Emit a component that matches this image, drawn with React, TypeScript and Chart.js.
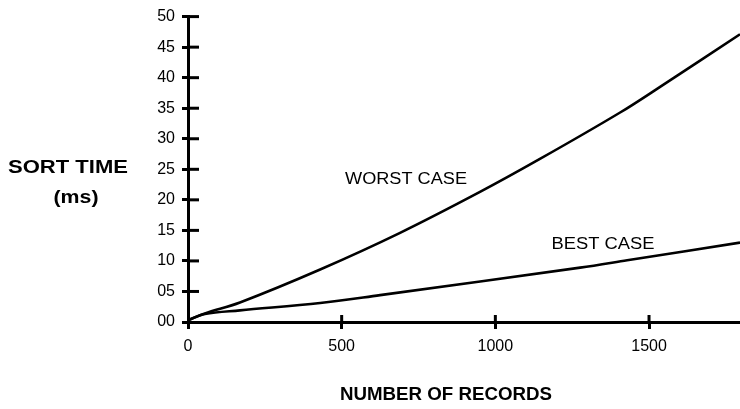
import React, { useEffect, useRef } from 'react';
import { Chart, registerables } from 'chart.js';

Chart.register(...registerables);

// ---- Data ----
const WORST_X = [0, 55, 169, 430, 690, 950, 1145, 1406, 1536, 1796];
const WORST_Y = [0.3, 1.4, 3.2, 8.6, 14.6, 21.3, 26.7, 34.3, 38.5, 47.1];
const BEST_X = [0, 55, 169, 430, 625, 1276, 1429, 1796];
const BEST_Y = [0.3, 1.3, 1.9, 3.1, 4.4, 8.9, 10.1, 13.0];

const X_TICKS = [0, 500, 1000, 1500];
const X_TICK_LABELS = ['0', '500', '1000', '1500'];
const Y_TICKS = [0, 5, 10, 15, 20, 25, 30, 35, 40, 45, 50];
const Y_TICK_LABELS = ['00', '05', '10', '15', '20', '25', '30', '35', '40', '45', '50'];
const X_MAX = 1796;
const Y_MAX = 50;

const SERIES_LABELS = ['WORST CASE', 'BEST CASE'];
const Y_TITLE = ['SORT TIME', '(ms)'];
const X_TITLE = 'NUMBER OF RECORDS';

const INK = '#000';
const SANS = '"Liberation Sans", Arial, Helvetica, sans-serif';

function drawStretched(
  ctx: CanvasRenderingContext2D,
  text: string,
  cx: number,
  cy: number,
  font: string,
  width: number
) {
  ctx.save();
  ctx.font = font;
  ctx.fillStyle = INK;
  const w = ctx.measureText(text).width;
  ctx.translate(cx, cy);
  ctx.scale(width / w, 1);
  ctx.textAlign = 'center';
  ctx.textBaseline = 'middle';
  ctx.fillText(text, 0, 0);
  ctx.restore();
}

const decorPlugin = {
  id: 'decor',
  afterDraw(chart: any) {
    const ctx: CanvasRenderingContext2D = chart.ctx;
    const xs = chart.scales.x;
    const ys = chart.scales.y;
    const area = chart.chartArea;
    ctx.save();
    ctx.strokeStyle = INK;
    ctx.lineWidth = 3;
    ctx.lineCap = 'butt';
    // inner halves of tick marks (ticks cross the axes)
    Y_TICKS.forEach((v) => {
      if (v === 0) return;
      const py = ys.getPixelForValue(v);
      ctx.beginPath();
      ctx.moveTo(area.left, py);
      ctx.lineTo(area.left + 11, py);
      ctx.stroke();
    });
    X_TICKS.forEach((v) => {
      if (v === 0) return;
      const px = xs.getPixelForValue(v);
      ctx.beginPath();
      ctx.moveTo(px, area.bottom);
      ctx.lineTo(px, area.bottom - 7);
      ctx.stroke();
    });
    ctx.restore();

    // Titles
    drawStretched(ctx, Y_TITLE[0], 68, 168, `bold 18px ${SANS}`, 120);
    drawStretched(ctx, Y_TITLE[1], 76, 198, `bold 18px ${SANS}`, 45);
    drawStretched(ctx, X_TITLE, 446, 395, `bold 18px ${SANS}`, 212);

    // Series labels
    drawStretched(ctx, SERIES_LABELS[0], 406, 180, `16px ${SANS}`, 122);
    drawStretched(ctx, SERIES_LABELS[1], 603, 245, `16px ${SANS}`, 103);
  },
};

export default function App() {
  const ref = useRef<HTMLCanvasElement | null>(null);

  useEffect(() => {
    if (!ref.current) return;
    const chart = new Chart(ref.current, {
      type: 'scatter',
      data: {
        datasets: [
          {
            label: SERIES_LABELS[0],
            data: WORST_X.map((x, i) => ({ x, y: WORST_Y[i] })),
            showLine: true,
            borderColor: INK,
            borderWidth: 2.6,
            pointRadius: 0,
            tension: 0.35,
          },
          {
            label: SERIES_LABELS[1],
            data: BEST_X.map((x, i) => ({ x, y: BEST_Y[i] })),
            showLine: true,
            borderColor: INK,
            borderWidth: 2.6,
            pointRadius: 0,
            tension: 0.35,
          },
        ],
      },
      options: {
        animation: false,
        responsive: true,
        maintainAspectRatio: false,
        layout: { padding: { top: 14, right: 0, left: 0, bottom: 0 } },
        plugins: {
          legend: { display: false },
          tooltip: { enabled: false },
        },
        scales: {
          x: {
            type: 'linear',
            min: 0,
            max: X_MAX,
            afterBuildTicks: (scale: any) => {
              scale.ticks = X_TICKS.map((value) => ({ value }));
            },
            afterFit: (scale: any) => {
              scale.height = 87;
              scale.paddingRight = 0;
              scale.paddingLeft = 0;
            },
            border: { display: true, color: INK, width: 3 },
            grid: {
              drawOnChartArea: false,
              drawTicks: true,
              tickLength: 7,
              tickWidth: 3,
              tickColor: INK,
            },
            ticks: {
              autoSkip: false,
              maxRotation: 0,
              padding: 8,
              color: INK,
              font: { family: SANS, size: 16 },
              callback: (v: any) => {
                const i = X_TICKS.indexOf(Number(v));
                return i >= 0 ? X_TICK_LABELS[i] : '';
              },
            },
          },
          y: {
            type: 'linear',
            min: 0,
            max: Y_MAX,
            afterBuildTicks: (scale: any) => {
              scale.ticks = Y_TICKS.map((value) => ({ value }));
            },
            afterFit: (scale: any) => {
              scale.width = 188;
            },
            border: { display: true, color: INK, width: 3 },
            grid: {
              drawOnChartArea: false,
              drawTicks: true,
              tickLength: 6,
              tickWidth: 3,
              tickColor: INK,
            },
            ticks: {
              autoSkip: false,
              padding: 7,
              color: INK,
              font: { family: SANS, size: 16 },
              callback: (v: any) => {
                const i = Y_TICKS.indexOf(Number(v));
                return i >= 0 ? Y_TICK_LABELS[i] : '';
              },
            },
          },
        },
      },
      plugins: [decorPlugin],
    } as any);
    return () => chart.destroy();
  }, []);

  return (
    <div
      style={{
        position: 'fixed',
        left: 0,
        top: 0,
        width: 740,
        height: 409,
        background: '#fff',
      }}
    >
      <canvas ref={ref} />
    </div>
  );
}
